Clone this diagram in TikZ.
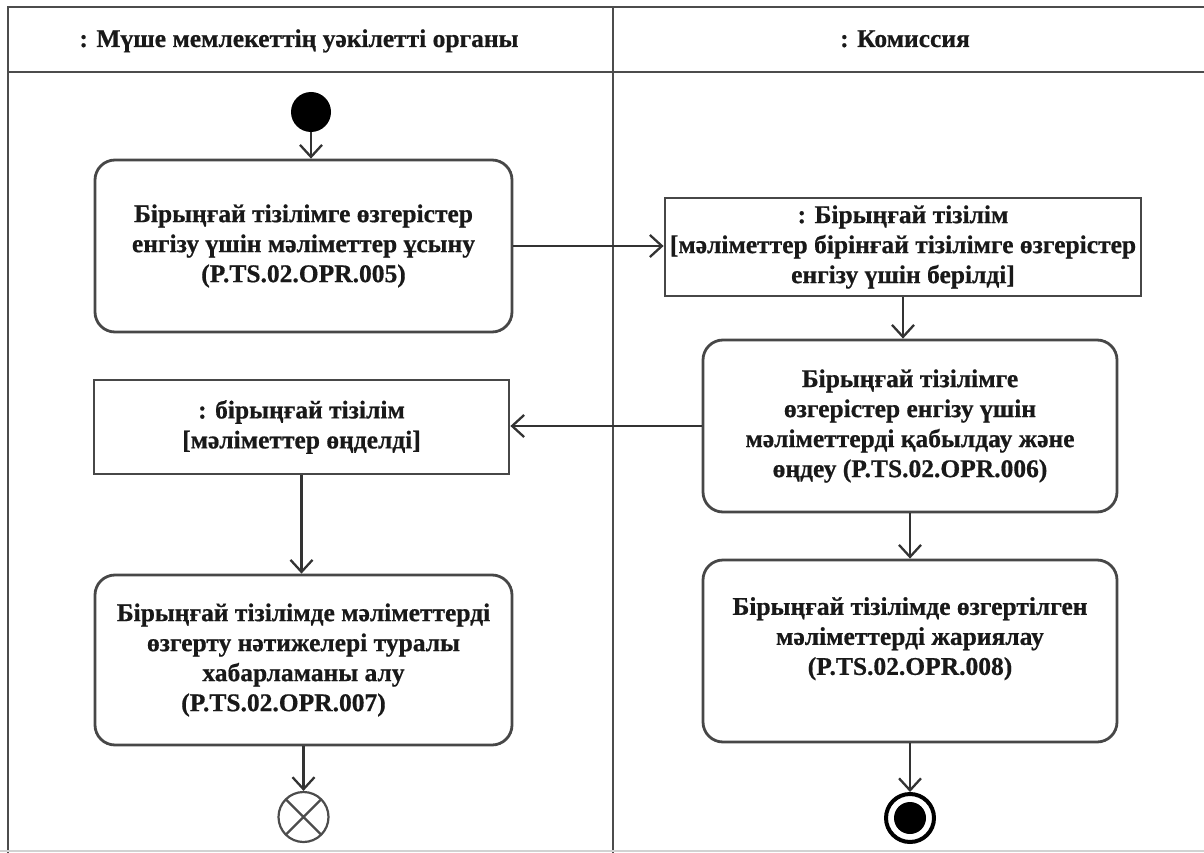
\documentclass[tikz,border=0pt]{standalone}
\usepackage{fontspec}
\setmainfont{Liberation Serif}[BoldFeatures={FakeBold=0.6}]
\usetikzlibrary{arrows.meta}
\begin{document}
\begin{tikzpicture}[x=1pt,y=-1pt,
  txt/.style={font=\bfseries\fontsize{25.5}{30}\selectfont, align=center, text=black!90},
  lane/.style={line width=2.8pt, draw=black!70},
  actbox/.style={txt, draw=black!72, line width=2.8pt, rounded corners=20pt, inner sep=0pt, fill=white},
  objbox/.style={txt, draw=black!72, line width=2.8pt, inner sep=0pt, fill=white},
  arr/.style={draw=black!80, line width=2.3pt, -{Straight Barb[length=12pt,width=22pt]}}
]
\useasboundingbox (0,0) rectangle (1204,853);
% swimlane frame
\draw[lane] (8,853) -- (8,7) -- (1210,7);
\draw[lane] (8,72) -- (1210,72);
\draw[lane] (613,7) -- (613,853);
\draw[gray!35, line width=1.5pt] (0,851) -- (1204,851);
\node[txt, anchor=base] (h1) at (299,47) {: Мүше мемлекеттің уәкілетті органы};
\node[txt, anchor=base] (h2) at (905,47) {: Комиссия};
% nodes
\node[circle, fill=black, minimum size=40pt, inner sep=0pt] (start) at (311,112) {};
\node[actbox, minimum width=417pt, minimum height=172pt] (b1) at (303.5,246)
  {Бірыңғай тізілімге өзгерістер\\ енгізу үшін мәліметтер ұсыну\\ (P.TS.02.OPR.005)};
\node[objbox, minimum width=476pt, minimum height=98pt] (b2) at (903,247)
  {: Бірыңғай тізілім\\ {[}мәліметтер бірінғай тізілімге өзгерістер\\ енгізу үшін берілді{]}};
\node[actbox, minimum width=414pt, minimum height=172pt] (b3) at (910,426)
  {Бірыңғай тізілімге\\ өзгерістер енгізу үшін\\ мәліметтерді қабылдау және\\ өңдеу (P.TS.02.OPR.006)};
\node[objbox, minimum width=415pt, minimum height=94pt] (b4) at (301.5,427)
  {: бірыңғай тізілім\\ {[}мәліметтер өңделді{]}};
\node[actbox, minimum width=417pt, minimum height=170pt] (b5) at (303.5,660)
  {Бірыңғай тізілімде мәліметтерді\\ өзгерту нәтижелері туралы\hspace*{16pt}\\ хабарламаны алу\hspace*{48pt}\\ (P.TS.02.OPR.007)\hspace*{40pt}};
\node[actbox, minimum width=414pt, minimum height=182pt] (b6) at (910,651)
  {Бірыңғай тізілімде өзгертілген\\ мәліметтерді жариялау\\ (P.TS.02.OPR.008)\\ ~};
\node[circle, draw=black!70, line width=2.2pt, minimum size=50pt, inner sep=0pt,
  path picture={\draw[black!70, line width=2.2pt] (path picture bounding box.north west) -- (path picture bounding box.south east)
     (path picture bounding box.north east) -- (path picture bounding box.south west);}] (flowend) at (303.5,817) {};
\node[circle, draw=black, line width=4pt, minimum size=48pt, inner sep=0pt,
  path picture={\fill[black] (path picture bounding box.center) circle (16pt);}] (fin) at (910,818) {};
% connectors
\draw[arr] (start) -- (start |- b1.north);
\draw[arr] (b1.east) -- (b1.east -| b2.west);
\draw[arr] (b2.south) -- (b2.south |- b3.north);
\draw[arr] (b3.west) -- (b3.west -| b4.east);
\draw[arr] (b4.south) -- (b4.south |- b5.north);
\draw[arr] (b5.south) -- (flowend.north);
\draw[arr] (b3.south) -- (b3.south |- b6.north);
\draw[arr] (b6.south) -- (fin.north);
\end{tikzpicture}
\end{document}
